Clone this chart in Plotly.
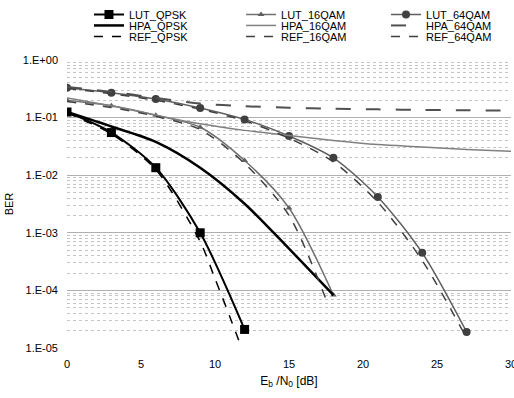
import plotly.graph_objects as go

# ---- data ----
x_lut_qpsk = [0, 3, 6, 9, 12]
lut_qpsk = [0.125, 0.055, 0.0135, 1.0e-3, 2.1e-5]

x_hpa_qpsk = [0, 3, 6, 9, 12, 15, 18]
hpa_qpsk = [0.125, 0.07, 0.038, 0.0135, 3.2e-3, 5.3e-4, 8.3e-5]

x_ref_qpsk = [0, 3, 6, 9, 10, 11, 11.8]
ref_qpsk = [0.12, 0.052, 0.0125, 7e-4, 1.6e-4, 3.5e-5, 1e-5]

x_lut_16 = [0, 3, 6, 9, 12, 15, 18]
lut_16 = [0.2, 0.16, 0.11, 0.068, 0.018, 2.7e-3, 8.3e-5]

x_hpa_16 = [0, 3, 6, 9, 12, 15, 18, 21, 24, 27, 30]
hpa_16 = [0.22, 0.16, 0.11, 0.078, 0.06, 0.049, 0.04, 0.034, 0.031, 0.028, 0.026]

x_ref_16 = [0, 3, 6, 9, 12, 15, 17.6]
ref_16 = [0.19, 0.15, 0.105, 0.062, 0.016, 2.0e-3, 6e-5]

x_lut_64 = [0, 3, 6, 9, 12, 15, 18, 21, 24, 27]
lut_64 = [0.33, 0.27, 0.21, 0.147, 0.093, 0.048, 0.020, 4.2e-3, 4.5e-4, 1.9e-5]

x_hpa_64 = [0, 3, 6, 9, 12, 15, 18, 21, 24, 27, 30]
hpa_64 = [0.34, 0.28, 0.22, 0.175, 0.158, 0.148, 0.142, 0.139, 0.136, 0.134, 0.132]

x_ref_64 = [0, 3, 6, 9, 12, 15, 18, 21, 24, 27]
ref_64 = [0.32, 0.26, 0.2, 0.14, 0.088, 0.044, 0.017, 3.4e-3, 3.3e-4, 1.5e-5]

y_tickvals = [1, 1e-1, 1e-2, 1e-3, 1e-4, 1e-5]
y_ticktext = ["1.E+00", "1.E-01", "1.E-02", "1.E-03", "1.E-04", "1.E-05"]
x_tickvals = [0, 5, 10, 15, 20, 25, 30]

FONT = "Liberation Sans, Arial, sans-serif"

fig = go.Figure()

def add(x, y, name, color, width, legend, dash="solid", symbol=None, msize=0, mcolor=None):
    mode = "lines+markers" if symbol else "lines"
    kw = {}
    if symbol:
        kw["marker"] = dict(symbol=symbol, size=msize, color=mcolor or color,
                            line=dict(width=0))
    fig.add_trace(go.Scatter(x=x, y=y, name=name, mode=mode,
                             line=dict(color=color, width=width, dash=dash,
                                       shape="spline", smoothing=0.8),
                             legend=legend, **kw))

add(x_lut_qpsk, lut_qpsk, "LUT_QPSK", "#000000", 2, "legend", symbol="square", msize=9)
add(x_lut_16, lut_16, "LUT_16QAM", "#707070", 1.5, "legend2", symbol="triangle-up", msize=6, mcolor="#606060")
add(x_lut_64, lut_64, "LUT_64QAM", "#606060", 1.5, "legend3", symbol="circle", msize=8, mcolor="#404040")
add(x_hpa_qpsk, hpa_qpsk, "HPA_QPSK", "#000000", 2.5, "legend4")
add(x_hpa_16, hpa_16, "HPA_16QAM", "#808080", 1.5, "legend5")
add(x_hpa_64, hpa_64, "HPA_64QAM", "#505050", 2, "legend6", dash="longdash")
add(x_ref_qpsk, ref_qpsk, "REF_QPSK", "#000000", 1.5, "legend7", dash="dash")
add(x_ref_16, ref_16, "REF_16QAM", "#404040", 1.5, "legend8", dash="dash")
add(x_ref_64, ref_64, "REF_64QAM", "#404040", 1.5, "legend9", dash="dash")

col_x = [0.0495, 0.392, 0.7185]
row_y = [1.158, 1.120, 1.082]

legends = {}
names = ["legend", "legend2", "legend3", "legend4", "legend5", "legend6",
         "legend7", "legend8", "legend9"]
for i, nm in enumerate(names):
    r, c = divmod(i, 3)
    legends[nm] = dict(orientation="h", xanchor="left", yanchor="middle",
                       x=col_x[c], y=row_y[r], itemwidth=30,
                       font=dict(family=FONT, size=11, color="#000"),
                       bgcolor="rgba(0,0,0,0)", borderwidth=0)

fig.update_layout(
    width=514, height=398,
    margin=dict(l=67, r=3, t=60, b=50, autoexpand=False),
    paper_bgcolor="white", plot_bgcolor="white",
    font=dict(family=FONT, size=11, color="#000"),
    showlegend=True,
    **legends,
)

fig.update_xaxes(range=[0, 30], tickvals=x_tickvals, showgrid=False, zeroline=False,
                 showline=False, ticks="", tickfont=dict(size=11), ticklabelstandoff=8,
                 ticklabeloverflow="allow",
                 title=dict(text="E<sub>b</sub> /N<sub>0</sub> [dB]", font=dict(size=12), standoff=7))
fig.update_yaxes(type="log", range=[-5, 0], tickvals=y_tickvals, ticktext=y_ticktext,
                 showgrid=True, gridcolor="#b0b0b0", gridwidth=1,
                 minor=dict(showgrid=True, gridcolor="#c4c4c4", griddash="dot", dtick="D1"),
                 zeroline=False, showline=False, ticks="", tickfont=dict(size=11),
                 ticklabelstandoff=8,
                 title=dict(text="BER", font=dict(size=11), standoff=6))

fig.write_html("out.html")
